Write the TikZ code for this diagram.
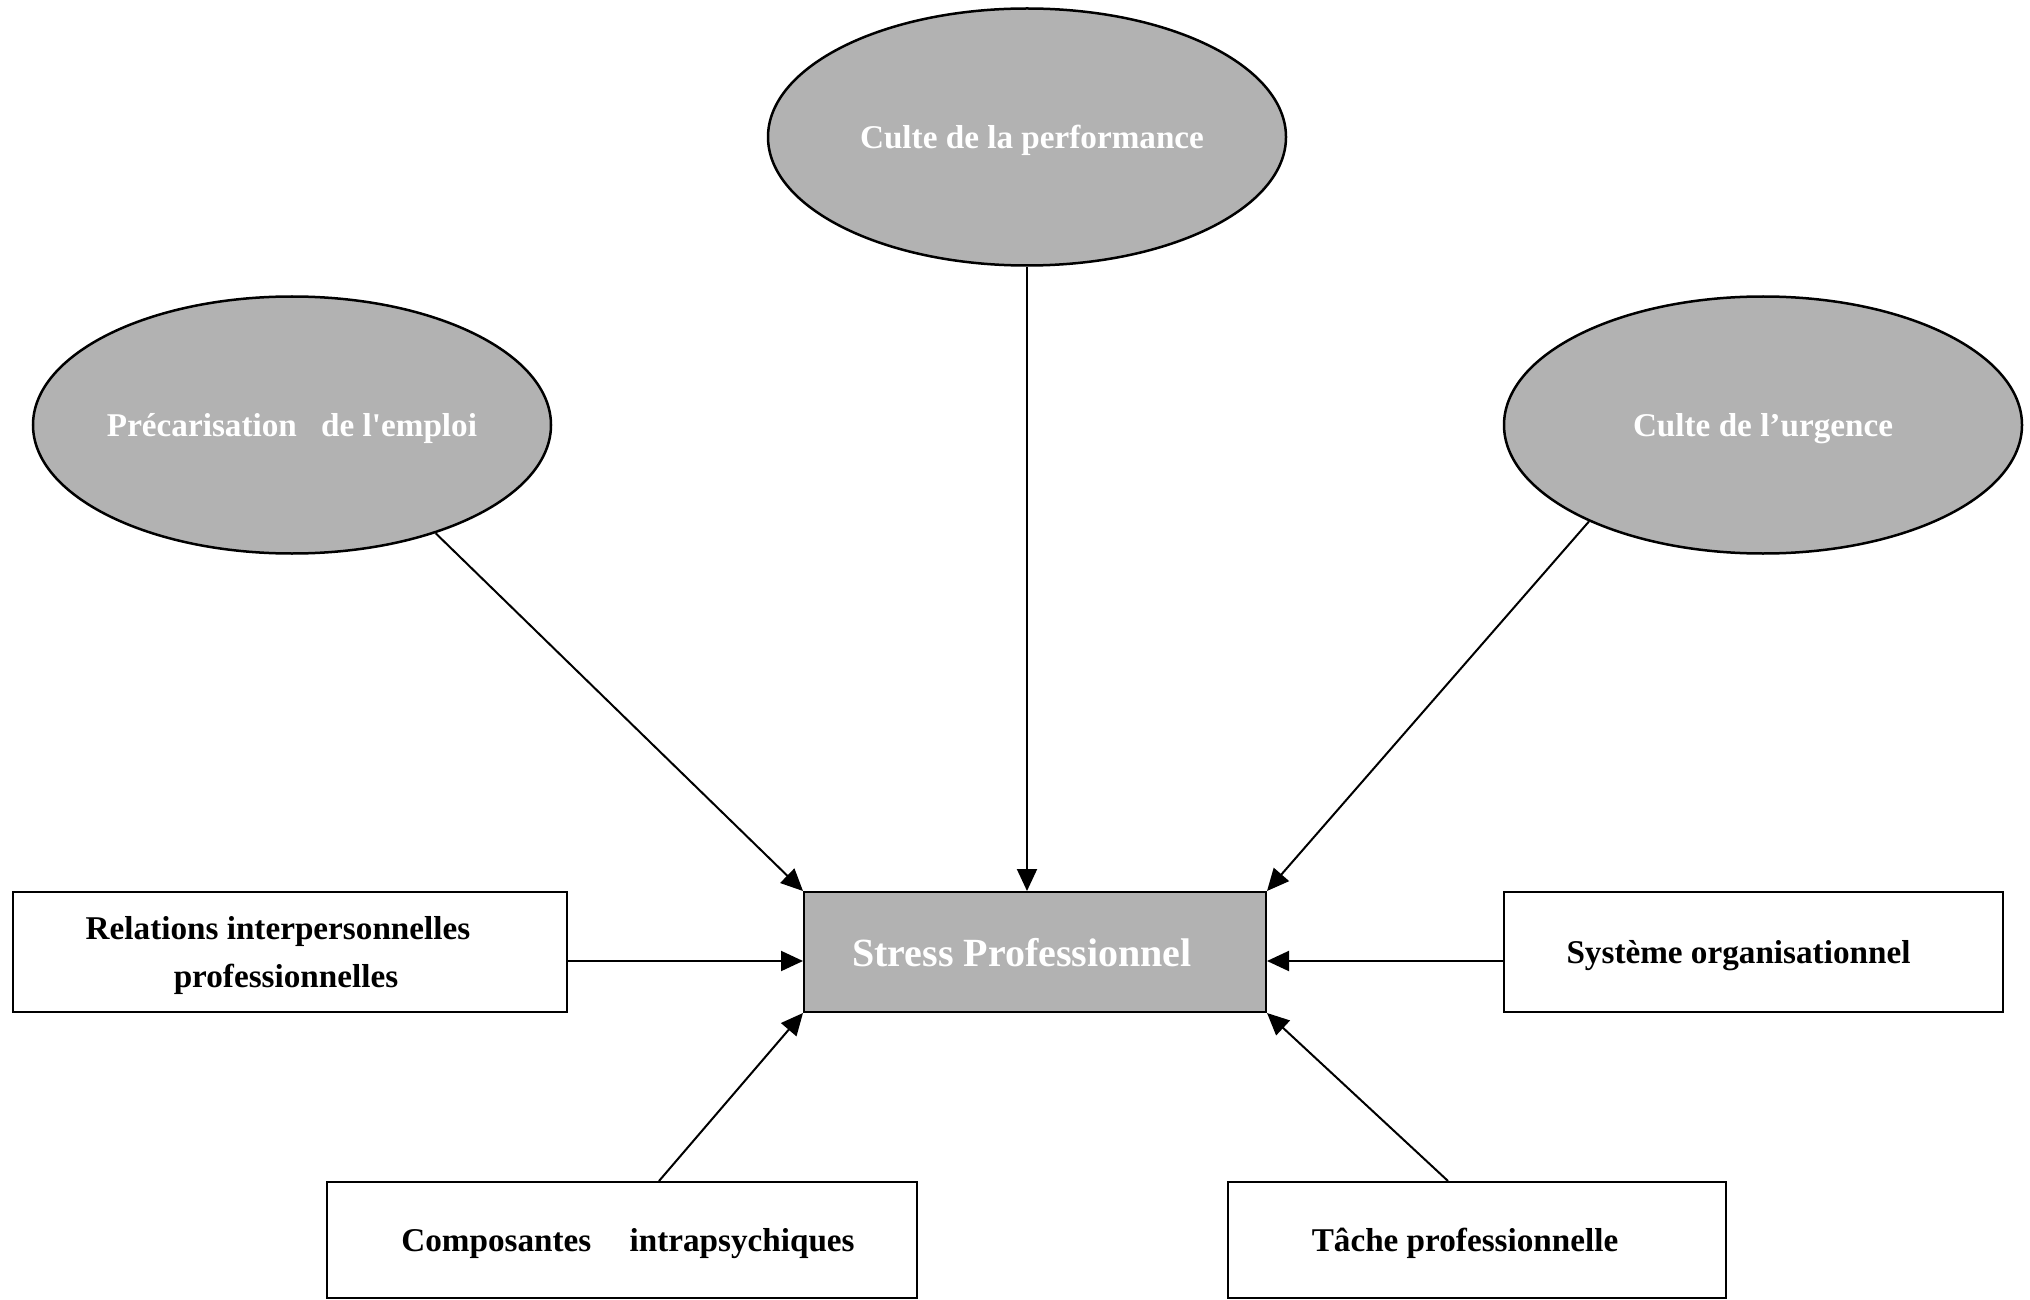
\documentclass[tikz,border=0pt]{standalone}
\usepackage{fontspec}
\setmainfont{Liberation Serif}
\usepackage{xcolor}
\usepackage{tikz}
\usetikzlibrary{shapes.geometric}
\usetikzlibrary{arrows.meta}
\definecolor{grisfond}{RGB}{178,178,178}

\begin{document}
\begin{tikzpicture}[x=0.5pt,y=-0.5pt,
        ovale/.style={ellipse,draw,line width=1.25pt,fill=grisfond,text=white,font=\bfseries\fontsize{16.6}{20}\selectfont,minimum width=259pt,minimum height=128.5pt,inner sep=0pt,text depth=0pt},
        boite/.style={rectangle,draw,line width=1pt,font=\bfseries\fontsize{16.6}{24}\selectfont,minimum height=60pt,inner sep=0pt,align=center,text depth=0pt},
        fleche/.style={-{Triangle[length=11pt,width=10pt]},line width=1pt}]
        \useasboundingbox (0,0) rectangle (2030,1300);

        \node[ovale] (perf) at (1027,137) {\hspace*{5pt}Culte de la performance};
        \node[ovale,inner xsep=-10pt] (prec) at (292,425) {Précarisation\hspace{8pt} de l\textquotesingle emploi};
        \node[ovale] (urg) at (1763,425) {Culte de l’urgence};

        \node[boite,fill=grisfond,text=white,font=\bfseries\fontsize{20}{24}\selectfont,minimum width=231pt] (stress) at (1035,952) {\hspace*{-13pt}Stress Professionnel};
        \node[boite,minimum width=277pt] (rel) at (290,952) {\hspace*{-12pt}Relations interpersonnelles\\\hspace*{-4pt}professionnelles};
        \node[boite,minimum width=249.5pt] (sys) at (1753.5,952) {\hspace*{-15pt}Système organisationnel};
        \node[boite,minimum width=295pt,minimum height=58pt] (compo) at (622,1240) {\hspace*{6pt}Composantes\hspace{15pt} intrapsychiques};
        \node[boite,minimum width=249pt,minimum height=58pt] (tache) at (1477,1240) {\hspace*{-12pt}Tâche professionnelle};

        \draw[fleche] (perf.south) -- (perf.south |- stress.north);
        \draw[fleche] (prec.323) -- (stress.north west);
        \draw[fleche] (urg.209) -- (stress.north east);
        \draw[fleche] ([yshift=-4.5pt]rel.east) -- ([yshift=-4.5pt]stress.west);
        \draw[fleche] ([yshift=-4.5pt]sys.west) -- ([yshift=-4.5pt]stress.east);
        \draw[fleche] ([xshift=18.5pt]compo.north) -- (stress.south west);
        \draw[fleche] ([xshift=-14.5pt]tache.north) -- (stress.south east);
    \end{tikzpicture}
\end{document}
